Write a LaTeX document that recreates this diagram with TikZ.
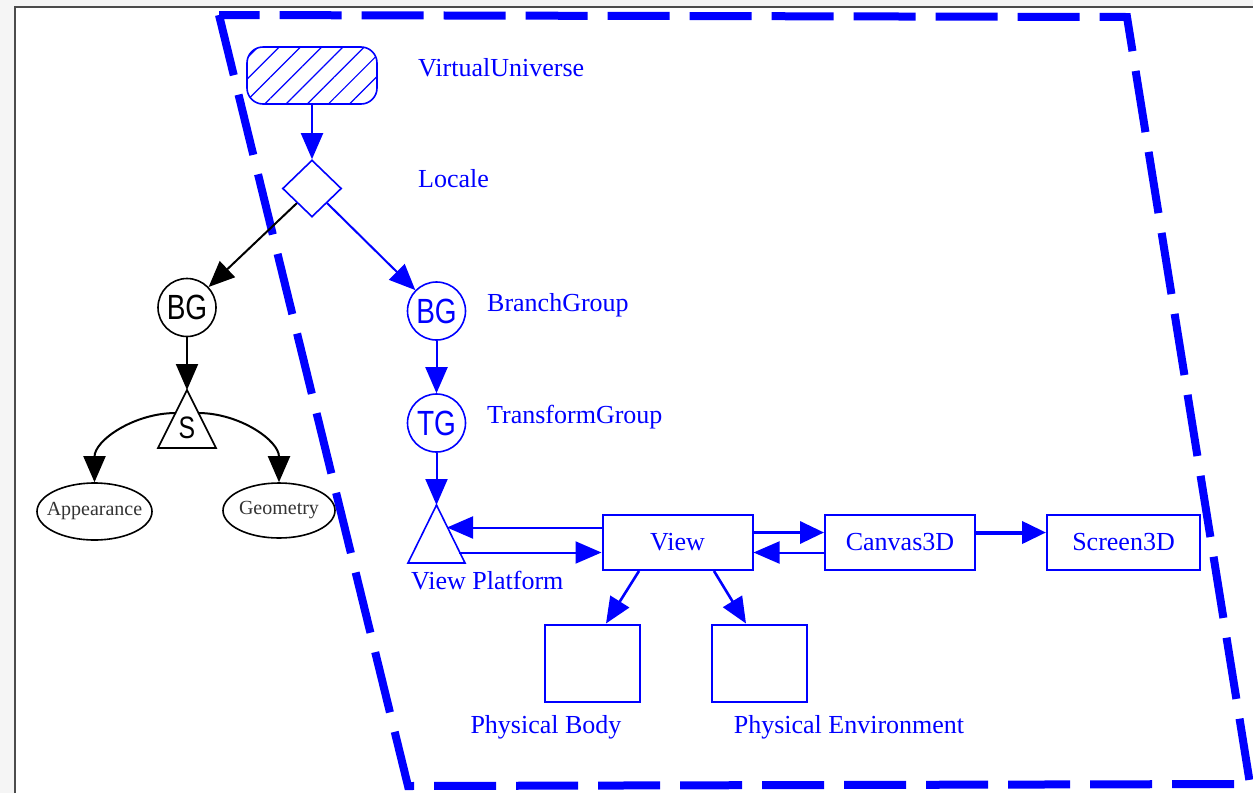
\documentclass[tikz,border=0pt]{standalone}
\usepackage{fontspec}
\setmainfont{Liberation Serif}
\newfontfamily\narrowsans[FakeStretch=0.8]{Liberation Sans}
\usetikzlibrary{arrows.meta,shapes.geometric,patterns.meta}
\definecolor{jblue}{RGB}{0,0,255}
\begin{document}
\begin{tikzpicture}[x=1pt,y=-1pt,
  arr/.style={-{Triangle[length=26pt,width=22pt]}, line width=2pt},
  thickarr/.style={-{Triangle[length=24pt,width=22pt]}, line width=4pt},
  lbl/.style={text=jblue, inner sep=0pt, font=\fontsize{26}{30}\selectfont},
  grp/.style={circle, draw, line width=1.6pt, minimum size=58pt, inner sep=0pt,
              font=\narrowsans\fontsize{35}{40}\selectfont},
  bbox/.style={draw=jblue, line width=2pt, inner sep=0pt, text=jblue,
               font=\fontsize{26}{30}\selectfont},
  leaf/.style={ellipse, draw, line width=1.6pt, inner xsep=-15pt, inner ysep=-5pt,
               font=\fontsize{20}{24}\selectfont, text=black!80},
  frame/.style={draw=jblue, line width=8pt, dash pattern=on 62pt off 20pt}
]
\useasboundingbox (0,0) rectangle (1253,793);
% page background
\fill[black!4] (0,0) rectangle (1253,793);
\fill[white] (15,7) rectangle (1253,793);
\draw[black!70, line width=1.5pt] (15,793) -- (15,7) -- (1253,7);

% dashed locale frame
\draw[frame] (219,15) -- (408,786) -- (1250,784) -- (1127,17) -- cycle;

% Virtual universe and locale
\node[draw=jblue, line width=1.6pt, rounded corners=16pt, minimum width=130pt,
      minimum height=57pt, inner sep=0pt,
      pattern={Lines[angle=45,distance=15pt,line width=1.2pt]}, pattern color=jblue]
      (vu) at (312,75.5) {};
\node[diamond, draw=jblue, line width=1.6pt, minimum width=59pt, minimum height=57pt,
      inner sep=0pt] (loc) at (312,188.5) {};
\node[lbl, anchor=base west] (lvu) at (418,76) {VirtualUniverse};
\node[lbl, anchor=base west] (lloc) at (418,187) {Locale};

% content branch (black)
\node[grp, draw=black] (bg1) at (187,307.5) {BG};
\coordinate (sA) at (187,390);
\coordinate (sL) at (158,448);
\coordinate (sR) at (216,448);
\coordinate (sW) at (176,413);
\coordinate (sE) at (198,413);
\draw[line width=1.6pt] (sA) -- (sL) -- (sR) -- cycle;
\node[inner sep=0pt, font=\narrowsans\fontsize{31}{36}\selectfont] (s) at (187,428) {S};
\node[leaf, minimum width=115pt, minimum height=57pt] (app) at (94.5,511.5) {Appearance};
\node[leaf, minimum width=112pt, minimum height=55pt] (geo) at (279,510.5) {Geometry};

\draw[arr] (loc.south west) -- (bg1);
\draw[arr] (bg1) -- (sA);
\draw[arr] (sW) to[out=180,in=90] (app.north);
\draw[arr] (sE) to[out=0,in=90] (geo.north);

% view branch (blue)
\node[grp, draw=jblue, text=jblue] (bg2) at (436.5,311) {BG};
\node[grp, draw=jblue, text=jblue] (tg) at (436.5,423) {TG};
\node[lbl, anchor=base west] (lbg) at (487,311) {BranchGroup};
\node[lbl, anchor=base west] (ltg) at (487,423) {TransformGroup};

\coordinate (vpA) at (436.5,505);
\coordinate (vpL) at (408,563);
\coordinate (vpR) at (465,563);
\coordinate (vpE1) at (447,527.5);
\coordinate (vpE2) at (459,552.5);
\draw[jblue, line width=1.6pt] (vpA) -- (vpL) -- (vpR) -- cycle;
\node[lbl, anchor=base west] (lvp) at (411,589) {View Platform};

\node[bbox, minimum width=150pt, minimum height=55pt] (view) at (677.5,542.5) {View};
\node[bbox, minimum width=150pt, minimum height=55pt] (canvas) at (900,542.5) {Canvas3D};
\node[bbox, minimum width=153pt, minimum height=55pt] (screen) at (1123.5,542.5) {Screen3D};
\node[bbox, minimum width=95pt, minimum height=77pt] (pb) at (592.5,663) {};
\node[bbox, minimum width=95pt, minimum height=77pt] (pe) at (759.5,663) {};
\node[lbl, anchor=base] (lpb) at (546,733) {Physical Body};
\node[lbl, anchor=base] (lpe) at (849,733) {Physical Environment};

\begin{scope}[jblue]
\draw[arr] (vu.south) -- (loc.north);
\draw[arr] (loc.south east) -- (bg2);
\draw[arr] (bg2) -- (tg);
\draw[arr] (tg) -- (vpA);
\draw[arr] ([yshift=15pt]view.west) -- (vpE1);
\draw[arr] (vpE2) -- ([yshift=-10pt]view.west);
\draw[thickarr, line width=3.5pt] ([yshift=10pt]view.east) -- ([yshift=10pt]canvas.west);
\draw[arr] ([yshift=-10pt]canvas.west) -- ([yshift=-10pt]view.east);
\draw[thickarr] ([yshift=10pt]canvas.east) -- ([yshift=10pt]screen.west);
\draw[arr, line width=2.6pt] ([xshift=-38.5pt]view.south) -- ([xshift=13.5pt]pb.north);
\draw[arr, line width=2.6pt] ([xshift=36.5pt]view.south) -- ([xshift=-13.5pt]pe.north);
\end{scope}
\end{tikzpicture}
\end{document}
